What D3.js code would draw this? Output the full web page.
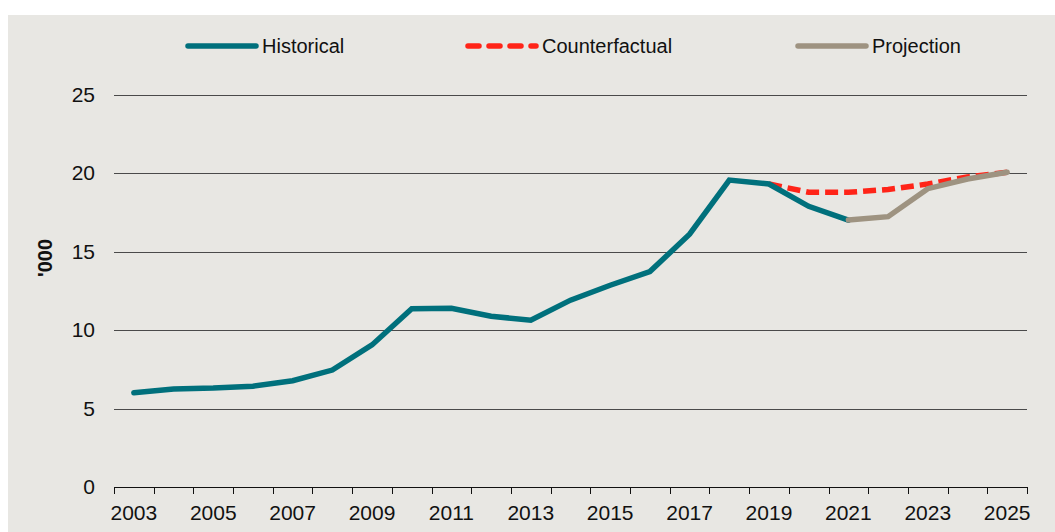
<!DOCTYPE html>
<html>
<head>
<meta charset="utf-8">
<script src="https://cdn.jsdelivr.net/npm/d3@7"></script>
<style>
  body { margin: 0; background: #fff; }
  svg { display: block; font-family: "Liberation Sans", Arial, sans-serif; }
</style>
</head>
<body>
<div id="chart"></div>
<script>
var
  width = 1055,
  height = 532;

// data ('000)
var years = d3.range(2003, 2026);
var tickYears = [2003, 2005, 2007, 2009, 2011, 2013, 2015, 2017, 2019, 2021, 2023, 2025];
var yTicks = [0, 5, 10, 15, 20, 25];

var historicalYears = [2003, 2004, 2005, 2006, 2007, 2008, 2009, 2010, 2011, 2012, 2013, 2014, 2015, 2016, 2017, 2018, 2019, 2020, 2021];
var historical = [6.0, 6.24, 6.3, 6.42, 6.77, 7.45, 9.05, 11.35, 11.38, 10.88, 10.62, 11.9, 12.85, 13.72, 16.1, 19.55, 19.3, 17.88, 17.0];

var counterfactualYears = [2019, 2020, 2021, 2022, 2023, 2024, 2025];
var counterfactual = [19.3, 18.77, 18.77, 18.95, 19.3, 19.75, 20.05];

var projectionYears = [2021, 2022, 2023, 2024, 2025];
var projection = [17.0, 17.22, 19.0, 19.62, 20.05];

var legendItems = ["Historical", "Counterfactual", "Projection"];

var colors = { Historical: "#00707c", Counterfactual: "#ff2418", Projection: "#9e9381" };

var svg = d3.select("#chart")
  .append("svg")
  .attr("width", width)
  .attr("height", height);

// panel
svg.append("rect")
  .attr("x", 8)
  .attr("y", 15)
  .attr("width", width - 8)
  .attr("height", height - 15)
  .attr("fill", "#e8e7e3");

var x = d3.scaleBand()
  .domain(years)
  .range([114, 1027])
  .padding(0);

var y = d3.scaleLinear()
  .domain([0, 25])
  .range([487, 94.5]);

function cx(yr) { return x(yr) + x.bandwidth() / 2; }

// gridlines
svg.append("g")
  .selectAll("line")
  .data(yTicks.filter(function(d) { return d > 0; }))
  .enter().append("line")
  .attr("x1", 114)
  .attr("x2", 1027)
  .attr("y1", function(d) { return Math.round(y(d)) + 0.5; })
  .attr("y2", function(d) { return Math.round(y(d)) + 0.5; })
  .attr("stroke", "#4a4a4a")
  .attr("stroke-width", 1);

// y labels
svg.append("g")
  .selectAll("text")
  .data(yTicks)
  .enter().append("text")
  .attr("x", 95)
  .attr("y", function(d) { return y(d); })
  .attr("dy", "0.35em")
  .attr("text-anchor", "end")
  .attr("font-size", 21)
  .attr("fill", "#111")
  .text(function(d) { return d; });

// y title
svg.append("text")
  .attr("transform", "translate(52,258) rotate(-90)")
  .attr("text-anchor", "middle")
  .attr("font-size", 20)
  .attr("font-weight", "bold")
  .attr("fill", "#111")
  .text("'000");

// x axis
var xAxisG = svg.append("g");
xAxisG.append("line")
  .attr("x1", 114)
  .attr("x2", 1027)
  .attr("y1", 487.5)
  .attr("y2", 487.5)
  .attr("stroke", "#111");

var edges = years.map(function(d) { return x(d); }).concat([x(2025) + x.bandwidth()]);
xAxisG.selectAll(".tick")
  .data(edges)
  .enter().append("line")
  .attr("class", "tick")
  .attr("x1", function(d) { return Math.round(d) + 0.5; })
  .attr("x2", function(d) { return Math.round(d) + 0.5; })
  .attr("y1", 487)
  .attr("y2", 494)
  .attr("stroke", "#111");

xAxisG.selectAll("text")
  .data(tickYears)
  .enter().append("text")
  .attr("x", function(d) { return cx(d); })
  .attr("y", 520)
  .attr("text-anchor", "middle")
  .attr("font-size", 21)
  .attr("fill", "#111")
  .text(function(d) { return d; });

var line = d3.line()
  .x(function(d) { return cx(d[0]); })
  .y(function(d) { return y(d[1]); });

function pairs(ys, vs) { return ys.map(function(d, i) { return [d, vs[i]]; }); }

svg.append("path")
  .datum(pairs(counterfactualYears, counterfactual))
  .attr("d", line)
  .attr("fill", "none")
  .attr("stroke", colors.Counterfactual)
  .attr("stroke-width", 5.5)
  .attr("stroke-dasharray", "13,6");

svg.append("path")
  .datum(pairs(historicalYears, historical))
  .attr("d", line)
  .attr("fill", "none")
  .attr("stroke", colors.Historical)
  .attr("stroke-width", 5.5)
  .attr("stroke-linecap", "round")
  .attr("stroke-linejoin", "miter");

svg.append("path")
  .datum(pairs(projectionYears, projection))
  .attr("d", line)
  .attr("fill", "none")
  .attr("stroke", colors.Projection)
  .attr("stroke-width", 5.5)
  .attr("stroke-linecap", "round");

// legend
var legendX = [186, 466, 796];
var legend = svg.append("g")
  .selectAll("g")
  .data(legendItems)
  .enter().append("g")
  .attr("transform", function(d, i) { return "translate(" + legendX[i] + ",46)"; });

legend.append("line")
  .attr("x1", 2)
  .attr("x2", 70)
  .attr("y1", 0)
  .attr("y2", 0)
  .attr("stroke", function(d) { return colors[d]; })
  .attr("stroke-width", 5.5)
  .attr("stroke-linecap", "round")
  .attr("stroke-dasharray", function(d) { return d === "Counterfactual" ? "11,10" : null; });

legend.append("text")
  .attr("x", 76)
  .attr("y", 0)
  .attr("dy", "0.35em")
  .attr("font-size", 20)
  .attr("fill", "#111")
  .text(function(d) { return d; });
</script>
</body>
</html>
